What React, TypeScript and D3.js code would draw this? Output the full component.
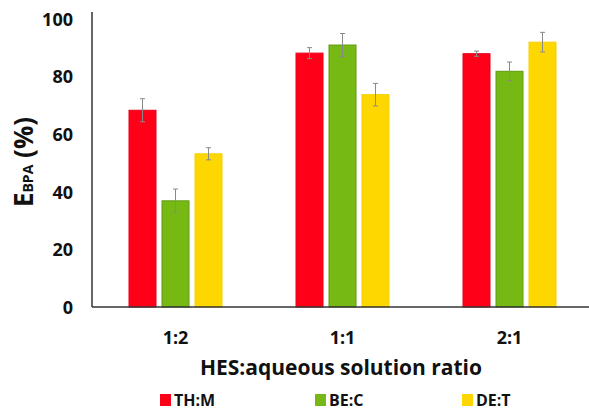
import React from "react";
import * as d3 from "d3";

const categories = ["1:2", "1:1", "2:1"];
const seriesNames = ["TH:M", "BE:C", "DE:T"];
const seriesColors = ["#FF0019", "#77B914", "#FFD700"];
const seriesStroke = ["#E8001A", "#5E9A10", "#F5D000"];
const values = [
  [68.2, 88.0, 87.8],
  [36.8, 90.8, 81.7],
  [53.1, 73.6, 91.8],
];
const errors = [
  [4.0, 1.9, 0.9],
  [4.1, 4.0, 3.2],
  [2.1, 3.9, 3.4],
];
const yTicks = [0, 20, 40, 60, 80, 100];

const W = 589;
const H = 412;
const FONT = "'Open Sans', 'Liberation Sans', sans-serif";

export default function App() {
  const x0 = 92;
  const x1 = 593;
  const yBase = 307;
  const yTop = 18.5;
  const x = d3.scaleBand<string>().domain(categories).range([x0, x1]);
  const y = d3.scaleLinear().domain([0, 100]).range([yBase, yTop]);
  const barW = 27;
  const step = 33;

  return (
    <svg
      width={W}
      height={H}
      style={{ position: "absolute", left: 0, top: 0, background: "#fff" }}
      fontFamily={FONT}
    >
      {/* bars */}
      {categories.map((c, ci) => {
        const cx = (x(c) as number) + x.bandwidth() / 2;
        return seriesNames.map((s, si) => {
          const v = values[si][ci];
          const e = errors[si][ci];
          const bx = cx + (si - 1) * step - barW / 2;
          const mid = bx + barW / 2;
          return (
            <g key={c + s}>
              <rect
                x={bx}
                y={y(v)}
                width={barW}
                height={yBase - y(v)}
                fill={seriesColors[si]}
                stroke={seriesStroke[si]}
                strokeWidth={1}
              />
              <line x1={mid} x2={mid} y1={y(v + e)} y2={y(v - e)} stroke="#8a8a8a" strokeWidth={1} />
              <line x1={mid - 2.5} x2={mid + 2.5} y1={y(v + e)} y2={y(v + e)} stroke="#8a8a8a" strokeWidth={1} />
              <line x1={mid - 2.5} x2={mid + 2.5} y1={y(v - e)} y2={y(v - e)} stroke="#8a8a8a" strokeWidth={1} />
            </g>
          );
        });
      })}

      {/* axes */}
      <line x1={x0} x2={x0} y1={12} y2={yBase} stroke="#333" strokeWidth={1.5} />
      <line x1={x0} x2={W} y1={yBase} y2={yBase} stroke="#333" strokeWidth={1.5} />

      {yTicks.map((t) => (
        <text
          key={t}
          x={73}
          y={y(t)}
          textAnchor="end"
          dominantBaseline="central"
          fontSize={18}
          fontWeight="bold"
          fill="#111"
        >
          {t}
        </text>
      ))}

      {categories.map((c) => (
        <text
          key={c}
          x={(x(c) as number) + x.bandwidth() / 2}
          y={337}
          textAnchor="middle"
          dominantBaseline="central"
          fontSize={18}
          fontWeight="bold"
          fill="#111"
        >
          {c}
        </text>
      ))}

      <text
        x={341}
        y={375}
        textAnchor="middle"
        fontSize={21}
        fontWeight="bold"
        fill="#111"
        textLength={282}
        lengthAdjust="spacing"
      >
        HES:aqueous solution ratio
      </text>

      {/* y title */}
      <text
        transform={`translate(33,162) rotate(-90)`}
        textAnchor="middle"
        fontSize={26}
        fontWeight="bold"
        fill="#111"
      >
        <tspan>E</tspan>
        <tspan fontSize={14}>BPA</tspan>
        <tspan> (%)</tspan>
      </text>

      {/* legend */}
      {seriesNames.map((s, i) => {
        const lx = [160, 315, 462][i];
        return (
          <g key={s}>
            <rect x={lx} y={394} width={11} height={12} fill={seriesColors[i]} />
            <text
              x={lx + 14}
              y={406}
              fontSize={16}
              fontWeight="bold"
              fill="#111"
            >
              {s}
            </text>
          </g>
        );
      })}
    </svg>
  );
}
